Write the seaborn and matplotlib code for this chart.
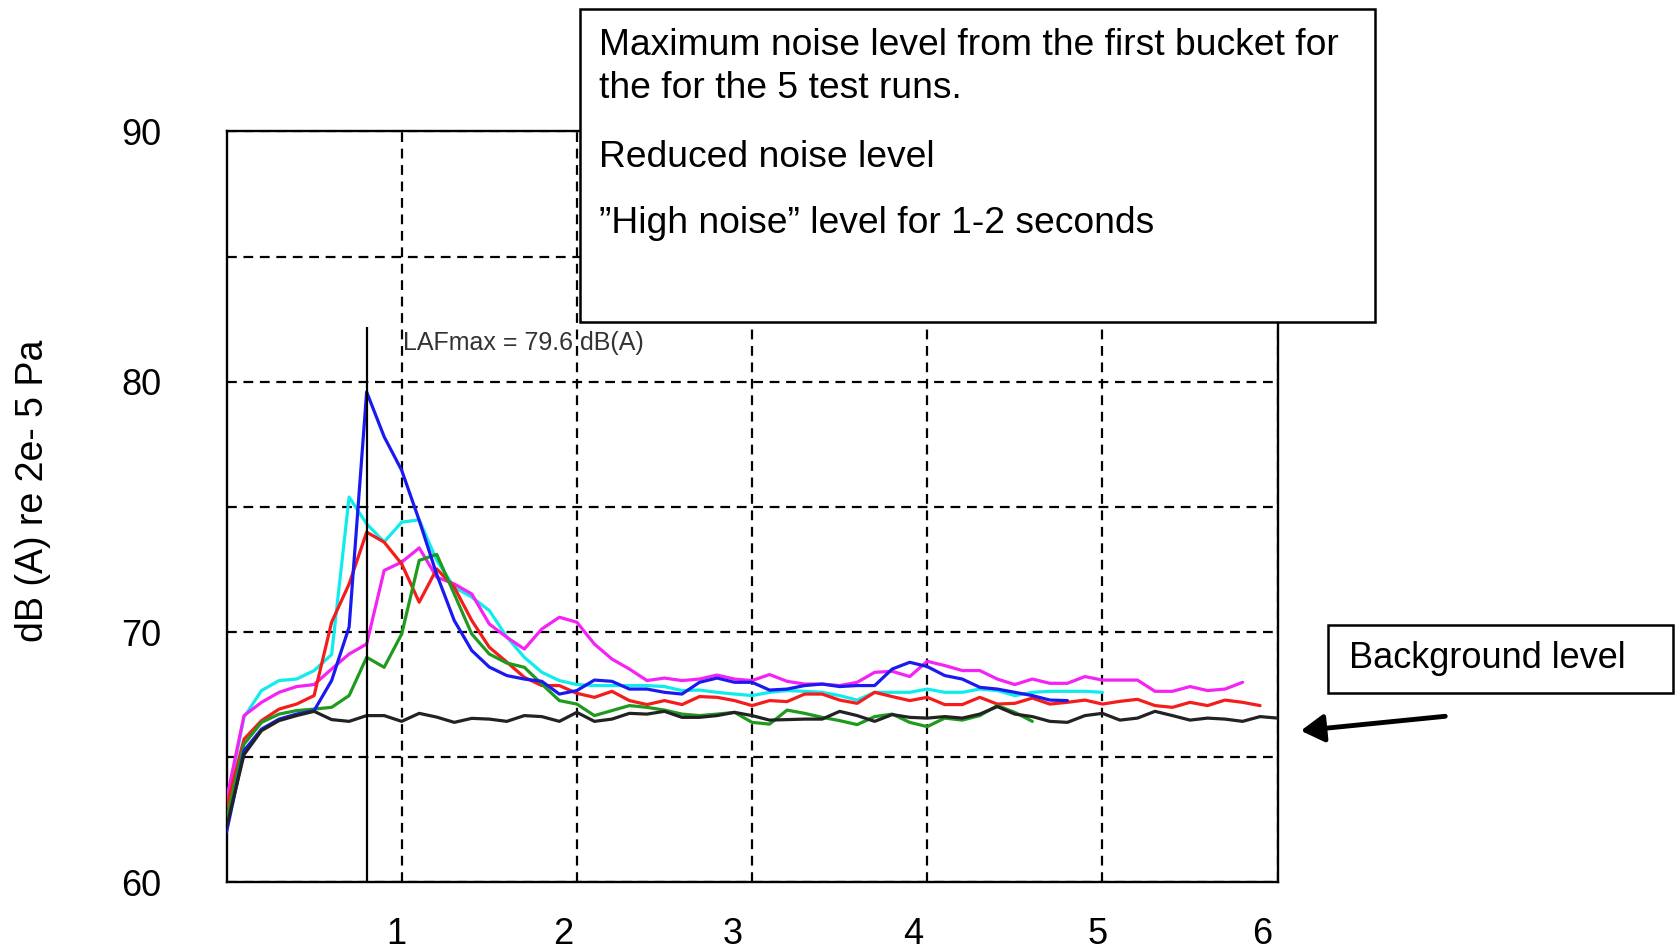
import matplotlib
matplotlib.use("Agg")
import matplotlib.pyplot as plt
from matplotlib.patches import Rectangle, FancyArrowPatch
import seaborn as sns
import pandas as pd

# ---------------- data ----------------
time = [0.0, 0.1, 0.2, 0.3, 0.4, 0.5, 0.6, 0.7, 0.8, 0.9,
        1.0, 1.1, 1.2, 1.3, 1.4, 1.5, 1.6, 1.7, 1.8, 1.9,
        2.0, 2.1, 2.2, 2.3, 2.4, 2.5, 2.6, 2.7, 2.8, 2.9,
        3.0, 3.1, 3.2, 3.3, 3.4, 3.5, 3.6, 3.7, 3.8, 3.9,
        4.0, 4.1, 4.2, 4.3, 4.4, 4.5, 4.6, 4.7, 4.8, 4.9,
        5.0, 5.1, 5.2, 5.3, 5.4, 5.5, 5.6, 5.7, 5.8, 5.9, 6.0]

run_cyan = [63.1, 66.6, 67.66, 68.06, 68.12, 68.46, 69.1, 75.39, 74.32, 73.6,
            74.39, 74.48, 72.86, 71.79, 71.39, 70.86,
            69.8, 68.99, 68.39, 68.06, 67.9,
            67.86, 67.86, 67.86, 67.86, 67.82,
            67.66, 67.68, 67.59, 67.52, 67.46,
            67.59, 67.66, 67.63, 67.59, 67.46,
            67.28, 67.59, 67.59, 67.59, 67.72,
            67.59, 67.59, 67.72, 67.66, 67.46,
            67.59, 67.63, 67.63, 67.63, 67.59]

run_magenta = [63.3, 66.66, 67.19, 67.59, 67.82, 67.9, 68.52, 69.12, 69.52, 72.46,
               72.79, 73.36, 72.19, 71.92, 71.52, 70.32,
               69.79, 69.32, 70.12, 70.59, 70.39,
               69.52, 68.92, 68.52, 68.06, 68.16,
               68.06, 68.12, 68.28, 68.12, 68.06,
               68.3, 68.03, 67.92, 67.92, 67.86,
               67.99, 68.39, 68.43, 68.22, 68.83,
               68.66, 68.46, 68.46, 68.12, 67.9,
               68.12, 67.95, 67.95, 68.22, 68.08,
               68.08, 68.08, 67.63, 67.63, 67.82,
               67.66, 67.72, 67.99]

run_red = [63.0, 65.72, 66.46, 66.92, 67.12, 67.46, 70.39, 71.92, 73.99, 73.59,
           72.72, 71.19, 72.52, 71.79, 70.46, 69.39,
           68.8, 68.19, 67.86, 67.86, 67.55,
           67.39, 67.63, 67.26, 67.1, 67.26,
           67.1, 67.42, 67.39, 67.26, 67.06,
           67.26, 67.22, 67.52, 67.52, 67.28,
           67.15, 67.59, 67.42, 67.26, 67.39,
           67.1, 67.1, 67.39, 67.12, 67.15,
           67.36, 67.12, 67.19, 67.28, 67.12,
           67.23, 67.31, 67.06, 66.99, 67.19,
           67.06, 67.28, 67.19, 67.06]

run_green = [62.5, 65.52, 66.39, 66.72, 66.86, 66.92, 66.99, 67.46, 68.99, 68.59,
             69.92, 72.86, 73.1, 71.52, 69.92, 69.12,
             68.76, 68.59, 67.92, 67.26, 67.12,
             66.66, 66.86, 67.06, 66.99, 66.88,
             66.72, 66.66, 66.72, 66.79, 66.39,
             66.32, 66.88, 66.75, 66.59, 66.46,
             66.3, 66.62, 66.72, 66.39, 66.22,
             66.56, 66.48, 66.66, 67.06, 66.79,
             66.43]

run_blue = [62.0, 65.26, 66.12, 66.52, 66.72, 66.86, 68.06, 70.2, 79.59, 77.8,
            76.46, 74.46, 72.3, 70.46, 69.26, 68.6,
            68.26, 68.12, 68.03, 67.52, 67.66,
            68.08, 68.03, 67.72, 67.72, 67.59,
            67.52, 67.99, 68.16, 67.99, 67.99,
            67.68, 67.72, 67.86, 67.92, 67.82,
            67.86, 67.86, 68.52, 68.79, 68.62,
            68.26, 68.12, 67.79, 67.72, 67.59,
            67.46, 67.28, 67.26]

background = [62.2, 65.1, 66.06, 66.46, 66.66, 66.83, 66.5, 66.43, 66.66, 66.66,
              66.43, 66.75, 66.6, 66.39, 66.55, 66.52, 66.43, 66.66, 66.62, 66.43,
              66.79, 66.43, 66.52, 66.75, 66.72, 66.83, 66.59, 66.59, 66.66, 66.79,
              66.66, 66.48, 66.5, 66.52, 66.52, 66.83, 66.66, 66.43, 66.7, 66.59,
              66.56, 66.62, 66.56, 66.72, 67.02, 66.72, 66.62, 66.43, 66.39, 66.66,
              66.75, 66.48, 66.56, 66.83, 66.66, 66.48, 66.56, 66.52, 66.43, 66.62,
              66.56]

series_names = ["cyan", "magenta", "red", "green", "blue", "background"]
series_values = [run_cyan, run_magenta, run_red, run_green, run_blue, background]
series_colors = ["#10ecec", "#f522f5", "#f51c1c", "#1f9a1f", "#1a1af0", "#222222"]

x_grid = [1, 2, 3, 4, 5, 6]
x_tick_labels = ["1", "2", "3", "4", "5", "6"]
# the pasted-in axis numbers sit slightly left of the grid lines
x_label_offsets = [-0.03, -0.08, -0.11, -0.08, -0.03, -0.09]
y_grid = [60, 65, 70, 75, 80, 85, 90]
y_tick_labels = ["60", "", "70", "", "80", "", "90"]

lafmax_time = 0.8
lafmax_marker_top = 82.2
lafmax_label = "LAFmax = 79.6 dB(A)"
lafmax_label_pos = (1.005, 81.55)

y_label = "dB (A) re 2e- 5 Pa"
box_lines = ["Maximum noise level from the first bucket for",
             "the for the 5 test runs.",
             "Reduced noise level",
             "\u201dHigh noise\u201d level for 1-2 seconds"]
bg_label = "Background level"

# ---------------- long-form table ----------------
rows = []
for name, vals in zip(series_names, series_values):
    for t, v in zip(time, vals):
        rows.append({"t": t, "level": v, "run": name})
df = pd.DataFrame(rows)

# ---------------- figure ----------------
sns.set_theme(style="white")
plt.rcParams["font.family"] = ["Liberation Sans", "DejaVu Sans"]

W, H = 1675, 952
fig = plt.figure(figsize=(W / 100, H / 100), dpi=100)
fig.patch.set_facecolor("white")
ax = fig.add_axes([226.5 / W, 1 - 882.3 / H, (1277.6 - 226.5) / W, (882.3 - 131.4) / H])

sns.lineplot(data=df, x="t", y="level", hue="run", hue_order=series_names,
             palette=dict(zip(series_names, series_colors)), estimator=None,
             sort=False, legend=False, linewidth=2.3, ax=ax, zorder=3)

ax.vlines(lafmax_time, 60, lafmax_marker_top, color="black", linewidth=1.6, zorder=4)
ax.text(lafmax_label_pos[0], lafmax_label_pos[1], lafmax_label, fontsize=18,
        color="#333333", va="center", ha="left", zorder=5)

ax.set_xlim(0, 6)
ax.set_ylim(60, 90)
ax.set_xticks(x_grid)
ax.set_xticklabels([""] * len(x_grid))
ax.set_xticks([g + o for g, o in zip(x_grid, x_label_offsets)], minor=True)
ax.set_xticklabels(x_tick_labels, minor=True)
ax.set_yticks(y_grid)
ax.set_yticklabels(y_tick_labels)
ax.tick_params(axis="both", which="both", length=0, labelsize=26, colors="black")
ax.tick_params(axis="x", which="both", pad=25)
ax.tick_params(axis="y", pad=47)
ax.set_xlabel("")
ax.set_ylabel("")
ax.grid(True, which="major", color="black", linestyle=(0, (4.4, 3.0)), linewidth=1.6)
ax.set_axisbelow(True)
for s in ax.spines.values():
    s.set_color("black")
    s.set_linewidth(1.7)
    s.set_visible(True)

fig.text(33 / W, 1 - 491 / H, y_label, rotation=90, fontsize=27,
         ha="center", va="center", color="black")

# main annotation box
fig.add_artist(Rectangle((580 / W, 1 - 321.7 / H), (1375 - 580) / W, (321.7 - 9.3) / H,
                         transform=fig.transFigure, facecolor="white",
                         edgecolor="black", linewidth=1.8, zorder=10))
baselines = [55, 98.3, 166.7, 233.3]
for line, yb in zip(box_lines, baselines):
    fig.text(599 / W, 1 - yb / H, line, fontsize=26.8, ha="left",
             va="baseline", color="black", zorder=11)

# background label box
fig.add_artist(Rectangle((1327.5 / W, 1 - 692.5 / H), (1673 - 1327.5) / W, (692.5 - 625) / H,
                         transform=fig.transFigure, facecolor="white",
                         edgecolor="black", linewidth=1.8, zorder=10))
fig.text(1349 / W, 1 - 658 / H, bg_label, fontsize=26, ha="left",
         va="center", color="black", zorder=11)

fig.add_artist(FancyArrowPatch((1448 / W, 1 - 716 / H), (1298 / W, 1 - 731 / H),
                               transform=fig.transFigure, arrowstyle="-|>,head_length=1.0,head_width=0.6",
                               mutation_scale=14, linewidth=3.5, color="black", zorder=10))

fig.savefig("out.png", dpi=100, facecolor="white")
